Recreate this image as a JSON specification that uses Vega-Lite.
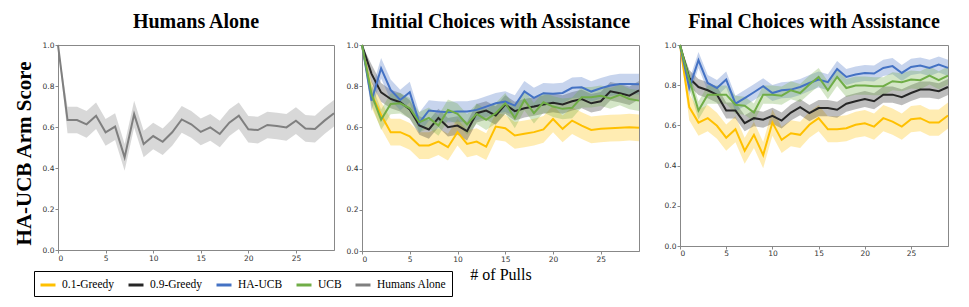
{
"$schema": "https://vega.github.io/schema/vega-lite/v6.json",
"padding": {"left": 12, "top": 11, "right": 5, "bottom": 5},
"spacing": 19,
"resolve": {"scale": {"color": "shared"}},
"config": {
  "view": {"stroke": "#888", "strokeWidth": 1},
  "title": {"font": "Liberation Serif", "fontSize": 20, "fontWeight": "bold", "color": "black", "offset": 9, "anchor": "middle"},
  "axis": {"grid": false, "labelFont": "DejaVu Sans", "labelFontSize": 7.5, "labelColor": "#333", "domainColor": "#888", "tickColor": "#888", "tickSize": 3, "labelPadding": 1},
  "legend": {"labelFont": "Liberation Serif", "labelFontSize": 11.5, "labelColor": "black", "symbolType": "stroke", "symbolStrokeWidth": 3, "symbolSize": 225, "symbolOpacity": 1, "strokeColor": "black", "padding": 5, "columnPadding": 7, "labelOffset": 5}
},
"datasets": {"d": [
{"p":"H","s":"Humans Alone","x":0,"y":1.0,"lo":0.99,"hi":1.0},
{"p":"H","s":"Humans Alone","x":1,"y":0.634,"lo":0.569,"hi":0.699},
{"p":"H","s":"Humans Alone","x":2,"y":0.634,"lo":0.569,"hi":0.699},
{"p":"H","s":"Humans Alone","x":3,"y":0.613,"lo":0.548,"hi":0.678},
{"p":"H","s":"Humans Alone","x":4,"y":0.655,"lo":0.590,"hi":0.720},
{"p":"H","s":"Humans Alone","x":5,"y":0.574,"lo":0.509,"hi":0.639},
{"p":"H","s":"Humans Alone","x":6,"y":0.602,"lo":0.537,"hi":0.667},
{"p":"H","s":"Humans Alone","x":7,"y":0.452,"lo":0.387,"hi":0.517},
{"p":"H","s":"Humans Alone","x":8,"y":0.663,"lo":0.598,"hi":0.728},
{"p":"H","s":"Humans Alone","x":9,"y":0.517,"lo":0.452,"hi":0.582},
{"p":"H","s":"Humans Alone","x":10,"y":0.556,"lo":0.491,"hi":0.621},
{"p":"H","s":"Humans Alone","x":11,"y":0.528,"lo":0.463,"hi":0.593},
{"p":"H","s":"Humans Alone","x":12,"y":0.574,"lo":0.509,"hi":0.639},
{"p":"H","s":"Humans Alone","x":13,"y":0.637,"lo":0.572,"hi":0.702},
{"p":"H","s":"Humans Alone","x":14,"y":0.613,"lo":0.548,"hi":0.678},
{"p":"H","s":"Humans Alone","x":15,"y":0.576,"lo":0.511,"hi":0.641},
{"p":"H","s":"Humans Alone","x":16,"y":0.598,"lo":0.533,"hi":0.663},
{"p":"H","s":"Humans Alone","x":17,"y":0.566,"lo":0.501,"hi":0.631},
{"p":"H","s":"Humans Alone","x":18,"y":0.621,"lo":0.556,"hi":0.686},
{"p":"H","s":"Humans Alone","x":19,"y":0.655,"lo":0.590,"hi":0.720},
{"p":"H","s":"Humans Alone","x":20,"y":0.589,"lo":0.524,"hi":0.654},
{"p":"H","s":"Humans Alone","x":21,"y":0.585,"lo":0.520,"hi":0.650},
{"p":"H","s":"Humans Alone","x":22,"y":0.610,"lo":0.545,"hi":0.675},
{"p":"H","s":"Humans Alone","x":23,"y":0.605,"lo":0.540,"hi":0.670},
{"p":"H","s":"Humans Alone","x":24,"y":0.598,"lo":0.533,"hi":0.663},
{"p":"H","s":"Humans Alone","x":25,"y":0.631,"lo":0.566,"hi":0.696},
{"p":"H","s":"Humans Alone","x":26,"y":0.593,"lo":0.528,"hi":0.658},
{"p":"H","s":"Humans Alone","x":27,"y":0.590,"lo":0.525,"hi":0.655},
{"p":"H","s":"Humans Alone","x":28,"y":0.631,"lo":0.566,"hi":0.696},
{"p":"H","s":"Humans Alone","x":29,"y":0.667,"lo":0.602,"hi":0.732},

{"p":"I","s":"0.1-Greedy","x":0,"y":1.0,"lo":0.99,"hi":1.0},
{"p":"I","s":"0.1-Greedy","x":1,"y":0.76,"lo":0.695,"hi":0.825},
{"p":"I","s":"0.1-Greedy","x":2,"y":0.66,"lo":0.595,"hi":0.725},
{"p":"I","s":"0.1-Greedy","x":3,"y":0.577,"lo":0.512,"hi":0.642},
{"p":"I","s":"0.1-Greedy","x":4,"y":0.577,"lo":0.512,"hi":0.642},
{"p":"I","s":"0.1-Greedy","x":5,"y":0.556,"lo":0.491,"hi":0.621},
{"p":"I","s":"0.1-Greedy","x":6,"y":0.512,"lo":0.447,"hi":0.577},
{"p":"I","s":"0.1-Greedy","x":7,"y":0.512,"lo":0.447,"hi":0.577},
{"p":"I","s":"0.1-Greedy","x":8,"y":0.531,"lo":0.466,"hi":0.596},
{"p":"I","s":"0.1-Greedy","x":9,"y":0.504,"lo":0.439,"hi":0.569},
{"p":"I","s":"0.1-Greedy","x":10,"y":0.577,"lo":0.512,"hi":0.642},
{"p":"I","s":"0.1-Greedy","x":11,"y":0.520,"lo":0.455,"hi":0.585},
{"p":"I","s":"0.1-Greedy","x":12,"y":0.531,"lo":0.466,"hi":0.596},
{"p":"I","s":"0.1-Greedy","x":13,"y":0.507,"lo":0.442,"hi":0.572},
{"p":"I","s":"0.1-Greedy","x":14,"y":0.604,"lo":0.539,"hi":0.669},
{"p":"I","s":"0.1-Greedy","x":15,"y":0.596,"lo":0.531,"hi":0.661},
{"p":"I","s":"0.1-Greedy","x":16,"y":0.561,"lo":0.496,"hi":0.626},
{"p":"I","s":"0.1-Greedy","x":17,"y":0.569,"lo":0.504,"hi":0.634},
{"p":"I","s":"0.1-Greedy","x":18,"y":0.577,"lo":0.512,"hi":0.642},
{"p":"I","s":"0.1-Greedy","x":19,"y":0.590,"lo":0.525,"hi":0.655},
{"p":"I","s":"0.1-Greedy","x":20,"y":0.641,"lo":0.576,"hi":0.706},
{"p":"I","s":"0.1-Greedy","x":21,"y":0.593,"lo":0.528,"hi":0.658},
{"p":"I","s":"0.1-Greedy","x":22,"y":0.633,"lo":0.568,"hi":0.698},
{"p":"I","s":"0.1-Greedy","x":23,"y":0.609,"lo":0.544,"hi":0.674},
{"p":"I","s":"0.1-Greedy","x":24,"y":0.588,"lo":0.523,"hi":0.653},
{"p":"I","s":"0.1-Greedy","x":25,"y":0.593,"lo":0.528,"hi":0.658},
{"p":"I","s":"0.1-Greedy","x":26,"y":0.596,"lo":0.531,"hi":0.661},
{"p":"I","s":"0.1-Greedy","x":27,"y":0.598,"lo":0.533,"hi":0.663},
{"p":"I","s":"0.1-Greedy","x":28,"y":0.601,"lo":0.536,"hi":0.666},
{"p":"I","s":"0.1-Greedy","x":29,"y":0.598,"lo":0.533,"hi":0.663},

{"p":"I","s":"0.9-Greedy","x":0,"y":1.0,"lo":0.99,"hi":1.0},
{"p":"I","s":"0.9-Greedy","x":1,"y":0.86,"lo":0.815,"hi":0.905},
{"p":"I","s":"0.9-Greedy","x":2,"y":0.77,"lo":0.725,"hi":0.815},
{"p":"I","s":"0.9-Greedy","x":3,"y":0.738,"lo":0.693,"hi":0.783},
{"p":"I","s":"0.9-Greedy","x":4,"y":0.722,"lo":0.677,"hi":0.767},
{"p":"I","s":"0.9-Greedy","x":5,"y":0.687,"lo":0.642,"hi":0.732},
{"p":"I","s":"0.9-Greedy","x":6,"y":0.609,"lo":0.564,"hi":0.654},
{"p":"I","s":"0.9-Greedy","x":7,"y":0.590,"lo":0.545,"hi":0.635},
{"p":"I","s":"0.9-Greedy","x":8,"y":0.646,"lo":0.601,"hi":0.691},
{"p":"I","s":"0.9-Greedy","x":9,"y":0.601,"lo":0.556,"hi":0.646},
{"p":"I","s":"0.9-Greedy","x":10,"y":0.609,"lo":0.564,"hi":0.654},
{"p":"I","s":"0.9-Greedy","x":11,"y":0.582,"lo":0.537,"hi":0.627},
{"p":"I","s":"0.9-Greedy","x":12,"y":0.669,"lo":0.624,"hi":0.714},
{"p":"I","s":"0.9-Greedy","x":13,"y":0.682,"lo":0.637,"hi":0.727},
{"p":"I","s":"0.9-Greedy","x":14,"y":0.658,"lo":0.613,"hi":0.703},
{"p":"I","s":"0.9-Greedy","x":15,"y":0.711,"lo":0.666,"hi":0.756},
{"p":"I","s":"0.9-Greedy","x":16,"y":0.679,"lo":0.634,"hi":0.724},
{"p":"I","s":"0.9-Greedy","x":17,"y":0.693,"lo":0.648,"hi":0.738},
{"p":"I","s":"0.9-Greedy","x":18,"y":0.701,"lo":0.656,"hi":0.746},
{"p":"I","s":"0.9-Greedy","x":19,"y":0.711,"lo":0.666,"hi":0.756},
{"p":"I","s":"0.9-Greedy","x":20,"y":0.719,"lo":0.674,"hi":0.764},
{"p":"I","s":"0.9-Greedy","x":21,"y":0.711,"lo":0.666,"hi":0.756},
{"p":"I","s":"0.9-Greedy","x":22,"y":0.727,"lo":0.682,"hi":0.772},
{"p":"I","s":"0.9-Greedy","x":23,"y":0.738,"lo":0.693,"hi":0.783},
{"p":"I","s":"0.9-Greedy","x":24,"y":0.717,"lo":0.672,"hi":0.762},
{"p":"I","s":"0.9-Greedy","x":25,"y":0.727,"lo":0.682,"hi":0.772},
{"p":"I","s":"0.9-Greedy","x":26,"y":0.775,"lo":0.730,"hi":0.820},
{"p":"I","s":"0.9-Greedy","x":27,"y":0.766,"lo":0.721,"hi":0.811},
{"p":"I","s":"0.9-Greedy","x":28,"y":0.754,"lo":0.709,"hi":0.799},
{"p":"I","s":"0.9-Greedy","x":29,"y":0.780,"lo":0.735,"hi":0.825},

{"p":"I","s":"HA-UCB","x":0,"y":1.0,"lo":0.99,"hi":1.0},
{"p":"I","s":"HA-UCB","x":1,"y":0.73,"lo":0.68,"hi":0.78},
{"p":"I","s":"HA-UCB","x":2,"y":0.887,"lo":0.837,"hi":0.937},
{"p":"I","s":"HA-UCB","x":3,"y":0.782,"lo":0.732,"hi":0.832},
{"p":"I","s":"HA-UCB","x":4,"y":0.733,"lo":0.683,"hi":0.783},
{"p":"I","s":"HA-UCB","x":5,"y":0.771,"lo":0.721,"hi":0.821},
{"p":"I","s":"HA-UCB","x":6,"y":0.622,"lo":0.572,"hi":0.672},
{"p":"I","s":"HA-UCB","x":7,"y":0.682,"lo":0.632,"hi":0.732},
{"p":"I","s":"HA-UCB","x":8,"y":0.677,"lo":0.627,"hi":0.727},
{"p":"I","s":"HA-UCB","x":9,"y":0.674,"lo":0.624,"hi":0.724},
{"p":"I","s":"HA-UCB","x":10,"y":0.677,"lo":0.627,"hi":0.727},
{"p":"I","s":"HA-UCB","x":11,"y":0.677,"lo":0.627,"hi":0.727},
{"p":"I","s":"HA-UCB","x":12,"y":0.685,"lo":0.635,"hi":0.735},
{"p":"I","s":"HA-UCB","x":13,"y":0.701,"lo":0.651,"hi":0.751},
{"p":"I","s":"HA-UCB","x":14,"y":0.717,"lo":0.667,"hi":0.767},
{"p":"I","s":"HA-UCB","x":15,"y":0.725,"lo":0.675,"hi":0.775},
{"p":"I","s":"HA-UCB","x":16,"y":0.706,"lo":0.656,"hi":0.756},
{"p":"I","s":"HA-UCB","x":17,"y":0.775,"lo":0.725,"hi":0.825},
{"p":"I","s":"HA-UCB","x":18,"y":0.743,"lo":0.693,"hi":0.793},
{"p":"I","s":"HA-UCB","x":19,"y":0.766,"lo":0.716,"hi":0.816},
{"p":"I","s":"HA-UCB","x":20,"y":0.763,"lo":0.713,"hi":0.813},
{"p":"I","s":"HA-UCB","x":21,"y":0.767,"lo":0.717,"hi":0.817},
{"p":"I","s":"HA-UCB","x":22,"y":0.792,"lo":0.742,"hi":0.842},
{"p":"I","s":"HA-UCB","x":23,"y":0.795,"lo":0.745,"hi":0.845},
{"p":"I","s":"HA-UCB","x":24,"y":0.774,"lo":0.724,"hi":0.824},
{"p":"I","s":"HA-UCB","x":25,"y":0.790,"lo":0.740,"hi":0.840},
{"p":"I","s":"HA-UCB","x":26,"y":0.803,"lo":0.753,"hi":0.853},
{"p":"I","s":"HA-UCB","x":27,"y":0.811,"lo":0.761,"hi":0.861},
{"p":"I","s":"HA-UCB","x":28,"y":0.811,"lo":0.761,"hi":0.861},
{"p":"I","s":"HA-UCB","x":29,"y":0.810,"lo":0.760,"hi":0.860},

{"p":"I","s":"UCB","x":0,"y":1.0,"lo":0.99,"hi":1.0},
{"p":"I","s":"UCB","x":1,"y":0.76,"lo":0.71,"hi":0.81},
{"p":"I","s":"UCB","x":2,"y":0.637,"lo":0.587,"hi":0.687},
{"p":"I","s":"UCB","x":3,"y":0.714,"lo":0.664,"hi":0.764},
{"p":"I","s":"UCB","x":4,"y":0.717,"lo":0.667,"hi":0.767},
{"p":"I","s":"UCB","x":5,"y":0.693,"lo":0.643,"hi":0.743},
{"p":"I","s":"UCB","x":6,"y":0.625,"lo":0.575,"hi":0.675},
{"p":"I","s":"UCB","x":7,"y":0.646,"lo":0.596,"hi":0.696},
{"p":"I","s":"UCB","x":8,"y":0.609,"lo":0.559,"hi":0.659},
{"p":"I","s":"UCB","x":9,"y":0.685,"lo":0.635,"hi":0.735},
{"p":"I","s":"UCB","x":10,"y":0.666,"lo":0.616,"hi":0.716},
{"p":"I","s":"UCB","x":11,"y":0.614,"lo":0.564,"hi":0.664},
{"p":"I","s":"UCB","x":12,"y":0.666,"lo":0.616,"hi":0.716},
{"p":"I","s":"UCB","x":13,"y":0.637,"lo":0.587,"hi":0.687},
{"p":"I","s":"UCB","x":14,"y":0.669,"lo":0.619,"hi":0.719},
{"p":"I","s":"UCB","x":15,"y":0.717,"lo":0.667,"hi":0.767},
{"p":"I","s":"UCB","x":16,"y":0.646,"lo":0.596,"hi":0.696},
{"p":"I","s":"UCB","x":17,"y":0.733,"lo":0.683,"hi":0.783},
{"p":"I","s":"UCB","x":18,"y":0.669,"lo":0.619,"hi":0.719},
{"p":"I","s":"UCB","x":19,"y":0.722,"lo":0.672,"hi":0.772},
{"p":"I","s":"UCB","x":20,"y":0.701,"lo":0.651,"hi":0.751},
{"p":"I","s":"UCB","x":21,"y":0.690,"lo":0.640,"hi":0.740},
{"p":"I","s":"UCB","x":22,"y":0.695,"lo":0.645,"hi":0.745},
{"p":"I","s":"UCB","x":23,"y":0.746,"lo":0.696,"hi":0.796},
{"p":"I","s":"UCB","x":24,"y":0.746,"lo":0.696,"hi":0.796},
{"p":"I","s":"UCB","x":25,"y":0.754,"lo":0.704,"hi":0.804},
{"p":"I","s":"UCB","x":26,"y":0.741,"lo":0.691,"hi":0.791},
{"p":"I","s":"UCB","x":27,"y":0.758,"lo":0.708,"hi":0.808},
{"p":"I","s":"UCB","x":28,"y":0.738,"lo":0.688,"hi":0.788},
{"p":"I","s":"UCB","x":29,"y":0.730,"lo":0.680,"hi":0.780},

{"p":"F","s":"0.1-Greedy","x":0,"y":1.0,"lo":0.99,"hi":1.0},
{"p":"F","s":"0.1-Greedy","x":1,"y":0.691,"lo":0.626,"hi":0.756},
{"p":"F","s":"0.1-Greedy","x":2,"y":0.614,"lo":0.549,"hi":0.679},
{"p":"F","s":"0.1-Greedy","x":3,"y":0.636,"lo":0.571,"hi":0.701},
{"p":"F","s":"0.1-Greedy","x":4,"y":0.598,"lo":0.533,"hi":0.663},
{"p":"F","s":"0.1-Greedy","x":5,"y":0.539,"lo":0.474,"hi":0.604},
{"p":"F","s":"0.1-Greedy","x":6,"y":0.581,"lo":0.516,"hi":0.646},
{"p":"F","s":"0.1-Greedy","x":7,"y":0.474,"lo":0.409,"hi":0.539},
{"p":"F","s":"0.1-Greedy","x":8,"y":0.553,"lo":0.488,"hi":0.618},
{"p":"F","s":"0.1-Greedy","x":9,"y":0.452,"lo":0.387,"hi":0.517},
{"p":"F","s":"0.1-Greedy","x":10,"y":0.614,"lo":0.549,"hi":0.679},
{"p":"F","s":"0.1-Greedy","x":11,"y":0.528,"lo":0.463,"hi":0.593},
{"p":"F","s":"0.1-Greedy","x":12,"y":0.561,"lo":0.496,"hi":0.626},
{"p":"F","s":"0.1-Greedy","x":13,"y":0.553,"lo":0.488,"hi":0.618},
{"p":"F","s":"0.1-Greedy","x":14,"y":0.603,"lo":0.538,"hi":0.668},
{"p":"F","s":"0.1-Greedy","x":15,"y":0.636,"lo":0.571,"hi":0.701},
{"p":"F","s":"0.1-Greedy","x":16,"y":0.581,"lo":0.516,"hi":0.646},
{"p":"F","s":"0.1-Greedy","x":17,"y":0.581,"lo":0.516,"hi":0.646},
{"p":"F","s":"0.1-Greedy","x":18,"y":0.586,"lo":0.521,"hi":0.651},
{"p":"F","s":"0.1-Greedy","x":19,"y":0.603,"lo":0.538,"hi":0.668},
{"p":"F","s":"0.1-Greedy","x":20,"y":0.611,"lo":0.546,"hi":0.676},
{"p":"F","s":"0.1-Greedy","x":21,"y":0.594,"lo":0.529,"hi":0.659},
{"p":"F","s":"0.1-Greedy","x":22,"y":0.636,"lo":0.571,"hi":0.701},
{"p":"F","s":"0.1-Greedy","x":23,"y":0.619,"lo":0.554,"hi":0.684},
{"p":"F","s":"0.1-Greedy","x":24,"y":0.594,"lo":0.529,"hi":0.659},
{"p":"F","s":"0.1-Greedy","x":25,"y":0.631,"lo":0.566,"hi":0.696},
{"p":"F","s":"0.1-Greedy","x":26,"y":0.636,"lo":0.571,"hi":0.701},
{"p":"F","s":"0.1-Greedy","x":27,"y":0.614,"lo":0.549,"hi":0.679},
{"p":"F","s":"0.1-Greedy","x":28,"y":0.614,"lo":0.549,"hi":0.679},
{"p":"F","s":"0.1-Greedy","x":29,"y":0.649,"lo":0.584,"hi":0.714},

{"p":"F","s":"0.9-Greedy","x":0,"y":1.0,"lo":0.99,"hi":1.0},
{"p":"F","s":"0.9-Greedy","x":1,"y":0.836,"lo":0.796,"hi":0.876},
{"p":"F","s":"0.9-Greedy","x":2,"y":0.791,"lo":0.751,"hi":0.831},
{"p":"F","s":"0.9-Greedy","x":3,"y":0.775,"lo":0.735,"hi":0.815},
{"p":"F","s":"0.9-Greedy","x":4,"y":0.753,"lo":0.713,"hi":0.793},
{"p":"F","s":"0.9-Greedy","x":5,"y":0.674,"lo":0.634,"hi":0.714},
{"p":"F","s":"0.9-Greedy","x":6,"y":0.674,"lo":0.634,"hi":0.714},
{"p":"F","s":"0.9-Greedy","x":7,"y":0.611,"lo":0.571,"hi":0.651},
{"p":"F","s":"0.9-Greedy","x":8,"y":0.636,"lo":0.596,"hi":0.676},
{"p":"F","s":"0.9-Greedy","x":9,"y":0.628,"lo":0.588,"hi":0.668},
{"p":"F","s":"0.9-Greedy","x":10,"y":0.648,"lo":0.608,"hi":0.688},
{"p":"F","s":"0.9-Greedy","x":11,"y":0.624,"lo":0.584,"hi":0.664},
{"p":"F","s":"0.9-Greedy","x":12,"y":0.664,"lo":0.624,"hi":0.704},
{"p":"F","s":"0.9-Greedy","x":13,"y":0.691,"lo":0.651,"hi":0.731},
{"p":"F","s":"0.9-Greedy","x":14,"y":0.661,"lo":0.621,"hi":0.701},
{"p":"F","s":"0.9-Greedy","x":15,"y":0.686,"lo":0.646,"hi":0.726},
{"p":"F","s":"0.9-Greedy","x":16,"y":0.686,"lo":0.646,"hi":0.726},
{"p":"F","s":"0.9-Greedy","x":17,"y":0.678,"lo":0.638,"hi":0.718},
{"p":"F","s":"0.9-Greedy","x":18,"y":0.708,"lo":0.668,"hi":0.748},
{"p":"F","s":"0.9-Greedy","x":19,"y":0.720,"lo":0.680,"hi":0.760},
{"p":"F","s":"0.9-Greedy","x":20,"y":0.731,"lo":0.691,"hi":0.771},
{"p":"F","s":"0.9-Greedy","x":21,"y":0.720,"lo":0.680,"hi":0.760},
{"p":"F","s":"0.9-Greedy","x":22,"y":0.753,"lo":0.713,"hi":0.793},
{"p":"F","s":"0.9-Greedy","x":23,"y":0.753,"lo":0.713,"hi":0.793},
{"p":"F","s":"0.9-Greedy","x":24,"y":0.740,"lo":0.700,"hi":0.780},
{"p":"F","s":"0.9-Greedy","x":25,"y":0.761,"lo":0.721,"hi":0.801},
{"p":"F","s":"0.9-Greedy","x":26,"y":0.778,"lo":0.738,"hi":0.818},
{"p":"F","s":"0.9-Greedy","x":27,"y":0.778,"lo":0.738,"hi":0.818},
{"p":"F","s":"0.9-Greedy","x":28,"y":0.770,"lo":0.730,"hi":0.810},
{"p":"F","s":"0.9-Greedy","x":29,"y":0.791,"lo":0.751,"hi":0.831},

{"p":"F","s":"HA-UCB","x":0,"y":1.0,"lo":0.99,"hi":1.0},
{"p":"F","s":"HA-UCB","x":1,"y":0.786,"lo":0.746,"hi":0.826},
{"p":"F","s":"HA-UCB","x":2,"y":0.925,"lo":0.885,"hi":0.965},
{"p":"F","s":"HA-UCB","x":3,"y":0.811,"lo":0.771,"hi":0.851},
{"p":"F","s":"HA-UCB","x":4,"y":0.786,"lo":0.746,"hi":0.826},
{"p":"F","s":"HA-UCB","x":5,"y":0.828,"lo":0.788,"hi":0.868},
{"p":"F","s":"HA-UCB","x":6,"y":0.708,"lo":0.668,"hi":0.748},
{"p":"F","s":"HA-UCB","x":7,"y":0.736,"lo":0.696,"hi":0.776},
{"p":"F","s":"HA-UCB","x":8,"y":0.765,"lo":0.725,"hi":0.805},
{"p":"F","s":"HA-UCB","x":9,"y":0.795,"lo":0.755,"hi":0.835},
{"p":"F","s":"HA-UCB","x":10,"y":0.761,"lo":0.721,"hi":0.801},
{"p":"F","s":"HA-UCB","x":11,"y":0.775,"lo":0.735,"hi":0.815},
{"p":"F","s":"HA-UCB","x":12,"y":0.778,"lo":0.738,"hi":0.818},
{"p":"F","s":"HA-UCB","x":13,"y":0.791,"lo":0.751,"hi":0.831},
{"p":"F","s":"HA-UCB","x":14,"y":0.811,"lo":0.771,"hi":0.851},
{"p":"F","s":"HA-UCB","x":15,"y":0.828,"lo":0.788,"hi":0.868},
{"p":"F","s":"HA-UCB","x":16,"y":0.815,"lo":0.775,"hi":0.855},
{"p":"F","s":"HA-UCB","x":17,"y":0.881,"lo":0.841,"hi":0.921},
{"p":"F","s":"HA-UCB","x":18,"y":0.841,"lo":0.801,"hi":0.881},
{"p":"F","s":"HA-UCB","x":19,"y":0.853,"lo":0.813,"hi":0.893},
{"p":"F","s":"HA-UCB","x":20,"y":0.861,"lo":0.821,"hi":0.901},
{"p":"F","s":"HA-UCB","x":21,"y":0.858,"lo":0.818,"hi":0.898},
{"p":"F","s":"HA-UCB","x":22,"y":0.886,"lo":0.846,"hi":0.926},
{"p":"F","s":"HA-UCB","x":23,"y":0.895,"lo":0.855,"hi":0.935},
{"p":"F","s":"HA-UCB","x":24,"y":0.861,"lo":0.821,"hi":0.901},
{"p":"F","s":"HA-UCB","x":25,"y":0.891,"lo":0.851,"hi":0.931},
{"p":"F","s":"HA-UCB","x":26,"y":0.898,"lo":0.858,"hi":0.938},
{"p":"F","s":"HA-UCB","x":27,"y":0.886,"lo":0.846,"hi":0.926},
{"p":"F","s":"HA-UCB","x":28,"y":0.903,"lo":0.863,"hi":0.943},
{"p":"F","s":"HA-UCB","x":29,"y":0.886,"lo":0.846,"hi":0.926},

{"p":"F","s":"UCB","x":0,"y":1.0,"lo":0.99,"hi":1.0},
{"p":"F","s":"UCB","x":1,"y":0.828,"lo":0.783,"hi":0.873},
{"p":"F","s":"UCB","x":2,"y":0.674,"lo":0.629,"hi":0.719},
{"p":"F","s":"UCB","x":3,"y":0.753,"lo":0.708,"hi":0.798},
{"p":"F","s":"UCB","x":4,"y":0.753,"lo":0.708,"hi":0.798},
{"p":"F","s":"UCB","x":5,"y":0.753,"lo":0.708,"hi":0.798},
{"p":"F","s":"UCB","x":6,"y":0.703,"lo":0.658,"hi":0.748},
{"p":"F","s":"UCB","x":7,"y":0.698,"lo":0.653,"hi":0.743},
{"p":"F","s":"UCB","x":8,"y":0.664,"lo":0.619,"hi":0.709},
{"p":"F","s":"UCB","x":9,"y":0.753,"lo":0.708,"hi":0.798},
{"p":"F","s":"UCB","x":10,"y":0.753,"lo":0.708,"hi":0.798},
{"p":"F","s":"UCB","x":11,"y":0.748,"lo":0.703,"hi":0.793},
{"p":"F","s":"UCB","x":12,"y":0.775,"lo":0.730,"hi":0.820},
{"p":"F","s":"UCB","x":13,"y":0.761,"lo":0.716,"hi":0.806},
{"p":"F","s":"UCB","x":14,"y":0.803,"lo":0.758,"hi":0.848},
{"p":"F","s":"UCB","x":15,"y":0.841,"lo":0.796,"hi":0.886},
{"p":"F","s":"UCB","x":16,"y":0.775,"lo":0.730,"hi":0.820},
{"p":"F","s":"UCB","x":17,"y":0.841,"lo":0.796,"hi":0.886},
{"p":"F","s":"UCB","x":18,"y":0.786,"lo":0.741,"hi":0.831},
{"p":"F","s":"UCB","x":19,"y":0.798,"lo":0.753,"hi":0.843},
{"p":"F","s":"UCB","x":20,"y":0.798,"lo":0.753,"hi":0.843},
{"p":"F","s":"UCB","x":21,"y":0.795,"lo":0.750,"hi":0.840},
{"p":"F","s":"UCB","x":22,"y":0.795,"lo":0.750,"hi":0.840},
{"p":"F","s":"UCB","x":23,"y":0.820,"lo":0.775,"hi":0.865},
{"p":"F","s":"UCB","x":24,"y":0.815,"lo":0.770,"hi":0.860},
{"p":"F","s":"UCB","x":25,"y":0.828,"lo":0.783,"hi":0.873},
{"p":"F","s":"UCB","x":26,"y":0.825,"lo":0.780,"hi":0.870},
{"p":"F","s":"UCB","x":27,"y":0.848,"lo":0.803,"hi":0.893},
{"p":"F","s":"UCB","x":28,"y":0.825,"lo":0.780,"hi":0.870},
{"p":"F","s":"UCB","x":29,"y":0.848,"lo":0.803,"hi":0.893}
]},
"hconcat": [
 {
  "spacing": 6,
  "hconcat": [
   {
    "width": 276, "height": 205,
    "title": "Humans Alone",
    "data": {"name": "d"},
    "transform": [{"filter": "datum.p === 'H'"}],
    "encoding": {
      "x": {"field": "x", "type": "quantitative", "scale": {"domain": [0, 29], "nice": false}, "axis": {"values": [0,5,10,15,20,25], "title": null}},
      "color": {"field": "s", "type": "nominal", "scale": {"domain": ["0.1-Greedy","0.9-Greedy","HA-UCB","UCB","Humans Alone"], "range": ["#FFC000","#262626","#4472C4","#70AD47","#7F7F7F"]},
          "legend": {"orient": "none", "legendX": -24, "legendY": 226, "direction": "horizontal", "title": null, "labelFont": "Liberation Serif", "labelFontSize": 11.5, "labelColor": "black", "symbolStrokeWidth": 3, "symbolSize": 225, "padding": 5, "columnPadding": 7, "labelOffset": 5}}
    },
    "layer": [
      {"mark": {"type": "area", "fillOpacity": 0.3}, "encoding": {"y": {"field": "lo", "type": "quantitative", "scale": {"domain": [0, 1]}, "axis": {"values": [0,0.2,0.4,0.6,0.8,1.0], "format": ".1f", "title": "HA-UCB Arm Score", "titleFont": "Liberation Serif", "titleFontSize": 21, "titleFontWeight": "bold", "titleColor": "black", "titlePadding": 8, "titleY": 108}}, "y2": {"field": "hi"}}},
      {"mark": {"type": "line", "strokeWidth": 2}, "encoding": {"y": {"field": "y", "type": "quantitative"}}}
    ]
   },
   {
    "width": 277, "height": 206,
    "title": "Initial Choices with Assistance",
    "data": {"name": "d"},
    "transform": [{"filter": "datum.p === 'I'"}],
    "encoding": {
      "x": {"field": "x", "type": "quantitative", "scale": {"domain": [0, 29], "nice": false}, "axis": {"values": [0,5,10,15,20,25], "title": "# of Pulls", "titleFont": "Liberation Serif", "titleFontSize": 16, "titleFontWeight": "normal", "titleColor": "black", "titleY": 28, "titleBaseline": "alphabetic"}},
      "color": {"field": "s", "type": "nominal"}
    },
    "layer": [
      {"mark": {"type": "area", "fillOpacity": 0.3}, "encoding": {"y": {"field": "lo", "type": "quantitative", "scale": {"domain": [0, 1]}, "axis": {"values": [0,0.2,0.4,0.6,0.8,1.0], "format": ".1f", "title": null}}, "y2": {"field": "hi"}}},
      {"mark": {"type": "line", "strokeWidth": 2}, "encoding": {"y": {"field": "y", "type": "quantitative"}}}
    ]
   }
  ]
 },
 {
  "width": 268, "height": 201,
  "title": "Final Choices with Assistance",
  "data": {"name": "d"},
  "transform": [{"filter": "datum.p === 'F'"}],
  "encoding": {
    "x": {"field": "x", "type": "quantitative", "scale": {"domain": [0, 29], "nice": false}, "axis": {"values": [0,5,10,15,20,25], "title": null, "labelPadding": 0}},
    "color": {"field": "s", "type": "nominal"}
  },
  "layer": [
    {"mark": {"type": "area", "fillOpacity": 0.3}, "encoding": {"y": {"field": "lo", "type": "quantitative", "scale": {"domain": [0, 1]}, "axis": {"values": [0,0.2,0.4,0.6,0.8,1.0], "format": ".1f", "title": null}}, "y2": {"field": "hi"}}},
    {"mark": {"type": "line", "strokeWidth": 2}, "encoding": {"y": {"field": "y", "type": "quantitative"}}}
  ]
 }
]
}
